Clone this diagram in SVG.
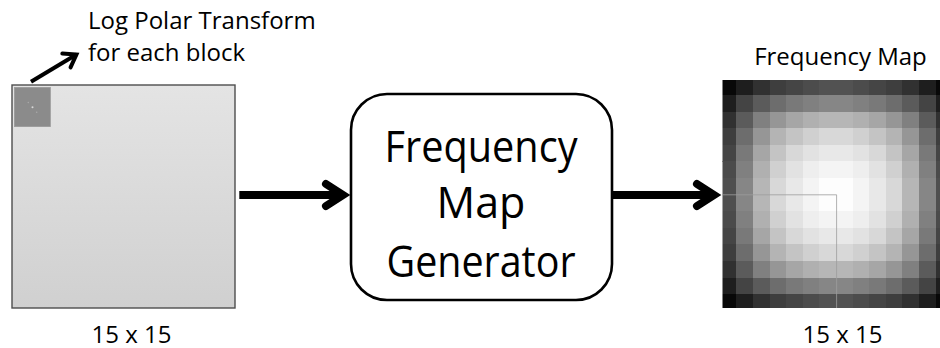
<svg xmlns="http://www.w3.org/2000/svg" xmlns:xlink="http://www.w3.org/1999/xlink" width="940" height="348" viewBox="0 0 940 348">
  <style>
    .lbl { font-family: "Open Sans", "Noto Sans", "Liberation Sans", sans-serif; font-size: 24px; fill: #000; }
    .big { font-family: "Open Sans", "Noto Sans", "Liberation Sans", sans-serif; font-size: 43px; fill: #000; text-anchor: middle; }
    .shaft { stroke: #000; fill: none; stroke-linecap: butt; }
    .head { stroke: #000; fill: none; stroke-linecap: round; stroke-linejoin: miter; stroke-miterlimit: 6; }
    #quad rect { shape-rendering: crispEdges; }
  </style>
  <defs>
    <linearGradient id="inputFill" x1="0" y1="0" x2="0" y2="1">
      <stop offset="0" stop-color="#e4e4e4"/>
      <stop offset="1" stop-color="#d0d0d0"/>
    </linearGradient>
    <!-- heavy chevron head for the main flow arrows -->
    <marker id="headBig" markerUnits="userSpaceOnUse" viewBox="-32 -16 40 32" markerWidth="40" markerHeight="32" refX="-7" refY="0" orient="auto" overflow="visible">
      <path class="head" stroke-width="8" d="M-24,-11 L-7,0 L-24,11"/>
    </marker>
    <!-- lighter chevron head for the annotation arrow -->
    <marker id="headSmall" markerUnits="userSpaceOnUse" viewBox="-20 -12 24 24" markerWidth="24" markerHeight="24" refX="-3.4" refY="0" orient="auto" overflow="visible">
      <path class="head" stroke-width="4" d="M-15,-8 L-3.4,0 L-15,8"/>
    </marker>
    <!-- one quadrant of the frequency map, centre of the map at (0,0) -->
    <g id="quad">
      <rect x="-116.2" y="-116.2" width="16.7" height="16.7" fill="#080808"/>
      <rect x="-99.6" y="-116.2" width="16.7" height="16.7" fill="#1e1e1e"/>
      <rect x="-83" y="-116.2" width="16.7" height="16.7" fill="#313131"/>
      <rect x="-66.4" y="-116.2" width="16.7" height="16.7" fill="#3e3e3e"/>
      <rect x="-49.8" y="-116.2" width="16.7" height="16.7" fill="#454545"/>
      <rect x="-33.2" y="-116.2" width="16.7" height="16.7" fill="#4c4c4c"/>
      <rect x="-16.6" y="-116.2" width="16.7" height="16.7" fill="#525252"/>

      <rect x="-116.2" y="-99.6" width="16.7" height="16.7" fill="#1e1e1e"/>
      <rect x="-99.6" y="-99.6" width="16.7" height="16.7" fill="#444444"/>
      <rect x="-83" y="-99.6" width="16.7" height="16.7" fill="#5b5b5b"/>
      <rect x="-66.4" y="-99.6" width="16.7" height="16.7" fill="#6d6d6d"/>
      <rect x="-49.8" y="-99.6" width="16.7" height="16.7" fill="#797979"/>
      <rect x="-33.2" y="-99.6" width="16.7" height="16.7" fill="#808080"/>
      <rect x="-16.6" y="-99.6" width="16.7" height="16.7" fill="#868686"/>

      <rect x="-116.2" y="-83" width="16.7" height="16.7" fill="#313131"/>
      <rect x="-99.6" y="-83" width="16.7" height="16.7" fill="#5b5b5b"/>
      <rect x="-83" y="-83" width="16.7" height="16.7" fill="#808080"/>
      <rect x="-66.4" y="-83" width="16.7" height="16.7" fill="#969696"/>
      <rect x="-49.8" y="-83" width="16.7" height="16.7" fill="#a6a6a6"/>
      <rect x="-33.2" y="-83" width="16.7" height="16.7" fill="#b0b0b0"/>
      <rect x="-16.6" y="-83" width="16.7" height="16.7" fill="#b6b6b6"/>

      <rect x="-116.2" y="-66.4" width="16.7" height="16.7" fill="#3e3e3e"/>
      <rect x="-99.6" y="-66.4" width="16.7" height="16.7" fill="#6d6d6d"/>
      <rect x="-83" y="-66.4" width="16.7" height="16.7" fill="#969696"/>
      <rect x="-66.4" y="-66.4" width="16.7" height="16.7" fill="#b4b4b4"/>
      <rect x="-49.8" y="-66.4" width="16.7" height="16.7" fill="#c4c4c4"/>
      <rect x="-33.2" y="-66.4" width="16.7" height="16.7" fill="#d0d0d0"/>
      <rect x="-16.6" y="-66.4" width="16.7" height="16.7" fill="#d8d8d8"/>

      <rect x="-116.2" y="-49.8" width="16.7" height="16.7" fill="#454545"/>
      <rect x="-99.6" y="-49.8" width="16.7" height="16.7" fill="#797979"/>
      <rect x="-83" y="-49.8" width="16.7" height="16.7" fill="#a6a6a6"/>
      <rect x="-66.4" y="-49.8" width="16.7" height="16.7" fill="#c4c4c4"/>
      <rect x="-49.8" y="-49.8" width="16.7" height="16.7" fill="#d8d8d8"/>
      <rect x="-33.2" y="-49.8" width="16.7" height="16.7" fill="#e2e2e2"/>
      <rect x="-16.6" y="-49.8" width="16.7" height="16.7" fill="#e8e8e8"/>

      <rect x="-116.2" y="-33.2" width="16.7" height="16.7" fill="#4b4b4b"/>
      <rect x="-99.6" y="-33.2" width="16.7" height="16.7" fill="#808080"/>
      <rect x="-83" y="-33.2" width="16.7" height="16.7" fill="#b0b0b0"/>
      <rect x="-66.4" y="-33.2" width="16.7" height="16.7" fill="#d0d0d0"/>
      <rect x="-49.8" y="-33.2" width="16.7" height="16.7" fill="#e2e2e2"/>
      <rect x="-33.2" y="-33.2" width="16.7" height="16.7" fill="#eeeeee"/>
      <rect x="-16.6" y="-33.2" width="16.7" height="16.7" fill="#f4f4f4"/>

      <rect x="-116.2" y="-16.6" width="16.7" height="16.7" fill="#4f4f4f"/>
      <rect x="-99.6" y="-16.6" width="16.7" height="16.7" fill="#868686"/>
      <rect x="-83" y="-16.6" width="16.7" height="16.7" fill="#b6b6b6"/>
      <rect x="-66.4" y="-16.6" width="16.7" height="16.7" fill="#d8d8d8"/>
      <rect x="-49.8" y="-16.6" width="16.7" height="16.7" fill="#e8e8e8"/>
      <rect x="-33.2" y="-16.6" width="16.7" height="16.7" fill="#f4f4f4"/>
      <rect x="-16.6" y="-16.6" width="16.7" height="16.7" fill="#fdfdfd"/>
    </g>
    <clipPath id="mapClip">
      <rect x="722.5" y="80" width="217.5" height="228"/>
    </clipPath>
  </defs>

  <rect width="940" height="348" fill="#ffffff"/>

  <!-- input grid with the first block highlighted -->
  <g id="input-grid">
    <rect x="12" y="85" width="223" height="223" fill="url(#inputFill)" stroke="#4e4e4e" stroke-width="1.4"/>
    <rect x="14.3" y="87.3" width="36.2" height="39.4" fill="#8b8b8b" stroke="#9a9a9a" stroke-width="0.6"/>
    <circle cx="28.3" cy="102.5" r="0.8" fill="#a8a8a8"/>
    <circle cx="32.5" cy="107.3" r="1" fill="#d8d8d8"/>
    <circle cx="36.7" cy="112.3" r="0.8" fill="#a8a8a8"/>
    <text class="lbl" x="131.5" y="342.5" text-anchor="middle">15 x 15</text>
  </g>

  <!-- annotation for the highlighted block -->
  <g id="block-note">
    <text class="lbl" x="88" y="29">Log Polar Transform</text>
    <text class="lbl" x="88" y="61">for each block</text>
  </g>

  <!-- processing stage -->
  <g id="generator">
    <rect x="351" y="94" width="261" height="206" rx="36" ry="36" fill="#ffffff" stroke="#000" stroke-width="2.6"/>
    <text class="big" x="481" y="162" textLength="193" lengthAdjust="spacingAndGlyphs">Frequency</text>
    <text class="big" x="481" y="217.5">Map</text>
    <text class="big" x="481" y="276.5" textLength="189" lengthAdjust="spacingAndGlyphs">Generator</text>
  </g>

  <!-- resulting frequency map -->
  <g id="freq-map">
    <g clip-path="url(#mapClip)">
      <g transform="translate(836.1,194.6)">
        <use xlink:href="#quad"/>
        <use xlink:href="#quad" transform="scale(-1,1)"/>
        <use xlink:href="#quad" transform="scale(1,-1)"/>
        <use xlink:href="#quad" transform="scale(-1,-1)"/>
      </g>
      <path d="M722.5,194.8 H836.6 V308" fill="none" stroke="#9c9c9c" stroke-width="0.8"/>
    </g>
    <text class="lbl" x="840.5" y="64.5" text-anchor="middle">Frequency Map</text>
    <text class="lbl" x="842.5" y="342.5" text-anchor="middle">15 x 15</text>
  </g>

  <!-- connectors -->
  <g id="connectors">
    <path class="shaft" d="M31,81.7 L76.4,54.5" stroke-width="4" marker-end="url(#headSmall)"/>
    <path class="shaft" d="M239.3,195 H343" stroke-width="8" marker-end="url(#headBig)"/>
    <path class="shaft" d="M612,195 H714" stroke-width="8" marker-end="url(#headBig)"/>
  </g>
</svg>
